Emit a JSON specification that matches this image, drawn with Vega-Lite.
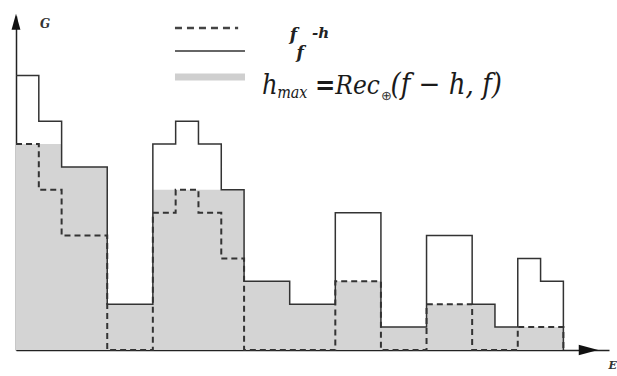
{
  "$schema": "https://vega.github.io/schema/vega-lite/v6.json",
  "width": 593,
  "height": 334,
  "autosize": "none",
  "padding": {"left": 16, "top": 16, "right": 8, "bottom": 26},
  "background": "white",
  "config": {
    "view": {"stroke": null},
    "axis": {"domain": true, "domainColor": "#222", "domainWidth": 1.5, "ticks": false, "labels": false, "grid": false, "title": null, "zindex": 1}
  },
  "layer": [
    {
      "data": {"values": [
        {"x": 0, "f": 12, "fh": 9, "hm": 9},
        {"x": 1, "f": 10, "fh": 7, "hm": 9},
        {"x": 2, "f": 8, "fh": 5, "hm": 8},
        {"x": 3, "f": 8, "fh": 5, "hm": 8},
        {"x": 4, "f": 2, "fh": 0, "hm": 2},
        {"x": 5, "f": 2, "fh": 0, "hm": 2},
        {"x": 6, "f": 9, "fh": 6, "hm": 7},
        {"x": 7, "f": 10, "fh": 7, "hm": 7},
        {"x": 8, "f": 9, "fh": 6, "hm": 7},
        {"x": 9, "f": 7, "fh": 4, "hm": 7},
        {"x": 10, "f": 3, "fh": 0, "hm": 3},
        {"x": 11, "f": 3, "fh": 0, "hm": 3},
        {"x": 12, "f": 2, "fh": 0, "hm": 2},
        {"x": 13, "f": 2, "fh": 0, "hm": 2},
        {"x": 14, "f": 6, "fh": 3, "hm": 3},
        {"x": 15, "f": 6, "fh": 3, "hm": 3},
        {"x": 16, "f": 1, "fh": 0, "hm": 1},
        {"x": 17, "f": 1, "fh": 0, "hm": 1},
        {"x": 18, "f": 5, "fh": 2, "hm": 2},
        {"x": 19, "f": 5, "fh": 2, "hm": 2},
        {"x": 20, "f": 2, "fh": 0, "hm": 2},
        {"x": 21, "f": 1, "fh": 0, "hm": 1},
        {"x": 22, "f": 4, "fh": 1, "hm": 1},
        {"x": 23, "f": 3, "fh": 1, "hm": 1},
        {"x": 24, "f": 0, "fh": 0, "hm": 0}
      ]},
      "layer": [
        {
          "mark": {"type": "area", "interpolate": "step-after", "color": "#d4d4d4"},
          "encoding": {
            "x": {"field": "x", "type": "quantitative", "scale": {"domain": [0, 26], "nice": false, "zero": false}, "axis": {"orient": "bottom"}},
            "y": {"field": "hm", "type": "quantitative", "scale": {"domain": [0, 14.6], "nice": false}, "axis": {"orient": "left"}}
          }
        },
        {
          "mark": {"type": "line", "interpolate": "step-after", "color": "#333", "strokeWidth": 1.5},
          "encoding": {
            "x": {"field": "x", "type": "quantitative"},
            "y": {"field": "f", "type": "quantitative"}
          }
        },
        {
          "mark": {"type": "line", "interpolate": "step-after", "color": "#333", "strokeWidth": 2, "strokeDash": [6, 4]},
          "encoding": {
            "x": {"field": "x", "type": "quantitative"},
            "y": {"field": "fh", "type": "quantitative"}
          }
        }
      ]
    },
    {
      "data": {"values": [{}]},
      "layer": [
        {
          "mark": {"type": "point", "shape": "M0,-1L0.55,1L-0.55,1Z", "filled": true, "color": "#111", "opacity": 1, "size": 260, "clip": false},
          "encoding": {"x": {"datum": 0}, "y": {"datum": 14.35}}
        },
        {
          "mark": {"type": "point", "shape": "M1,0L-1,0.55L-1,-0.55Z", "filled": true, "color": "#111", "opacity": 1, "size": 380, "clip": false},
          "encoding": {"x": {"datum": 25.1}, "y": {"datum": 0}}
        },
        {
          "mark": {"type": "text", "text": "G", "font": "DejaVu Serif", "fontStyle": "italic", "fontWeight": "bold", "fontSize": 12, "align": "left", "baseline": "alphabetic", "color": "#333"},
          "encoding": {"x": {"datum": 1.05}, "y": {"datum": 14.07}}
        },
        {
          "mark": {"type": "text", "text": "E", "font": "DejaVu Serif", "fontStyle": "italic", "fontWeight": "bold", "fontSize": 11, "align": "left", "baseline": "alphabetic", "color": "#333", "clip": false},
          "encoding": {"x": {"datum": 25.98}, "y": {"datum": -0.85}}
        },
        {
          "mark": {"type": "rule", "color": "#444", "strokeWidth": 2.5, "strokeDash": [7, 5]},
          "encoding": {"x": {"datum": 6.97}, "x2": {"datum": 9.74}, "y": {"datum": 14.07}}
        },
        {
          "mark": {"type": "rule", "color": "#333", "strokeWidth": 1.5},
          "encoding": {"x": {"datum": 6.97}, "x2": {"datum": 10.04}, "y": {"datum": 13.07}}
        },
        {
          "mark": {"type": "rule", "color": "#cfcfcf", "strokeWidth": 7},
          "encoding": {"x": {"datum": 6.97}, "x2": {"datum": 10.04}, "y": {"datum": 11.93}}
        },
        {
          "mark": {"type": "text", "text": "f", "font": "DejaVu Serif", "fontStyle": "italic", "fontWeight": "bold", "fontSize": 17, "align": "left", "baseline": "alphabetic", "color": "#222"},
          "encoding": {"x": {"datum": 12.0}, "y": {"datum": 13.55}}
        },
        {
          "mark": {"type": "text", "text": "-h", "font": "DejaVu Serif", "fontStyle": "italic", "fontWeight": "bold", "fontSize": 15, "align": "left", "baseline": "alphabetic", "color": "#222"},
          "encoding": {"x": {"datum": 12.98}, "y": {"datum": 13.64}}
        },
        {
          "mark": {"type": "text", "text": "f", "font": "DejaVu Serif", "fontStyle": "italic", "fontWeight": "bold", "fontSize": 17, "align": "left", "baseline": "alphabetic", "color": "#222"},
          "encoding": {"x": {"datum": 12.3}, "y": {"datum": 12.75}}
        },
        {
          "mark": {"type": "text", "text": "h", "font": "DejaVu Serif Condensed", "fontStyle": "italic", "fontSize": 27, "align": "left", "baseline": "alphabetic", "color": "#1a1a1a"},
          "encoding": {"x": {"datum": 10.79}, "y": {"datum": 11.19}}
        },
        {
          "mark": {"type": "text", "text": "max", "font": "DejaVu Serif Condensed", "fontStyle": "italic", "fontSize": 16, "align": "left", "baseline": "alphabetic", "color": "#1a1a1a"},
          "encoding": {"x": {"datum": 11.45}, "y": {"datum": 11.01}}
        },
        {
          "mark": {"type": "text", "text": "=", "font": "DejaVu Serif Condensed", "fontWeight": "bold", "fontSize": 27, "align": "left", "baseline": "alphabetic", "color": "#1a1a1a"},
          "encoding": {"x": {"datum": 13.11}, "y": {"datum": 11.19}}
        },
        {
          "mark": {"type": "text", "text": "Rec", "font": "DejaVu Serif Condensed", "fontStyle": "italic", "fontSize": 26, "align": "left", "baseline": "alphabetic", "color": "#1a1a1a"},
          "encoding": {"x": {"datum": 14.0}, "y": {"datum": 11.19}}
        },
        {
          "mark": {"type": "text", "text": "⊕", "font": "DejaVu Sans", "fontSize": 13, "align": "left", "baseline": "alphabetic", "color": "#333"},
          "encoding": {"x": {"datum": 16.0}, "y": {"datum": 10.95}}
        },
        {
          "mark": {"type": "text", "text": "(f − h, f)", "font": "DejaVu Serif Condensed", "fontStyle": "italic", "fontSize": 29, "align": "left", "baseline": "alphabetic", "color": "#1a1a1a"},
          "encoding": {"x": {"datum": 16.42}, "y": {"datum": 11.19}}
        }
      ]
    }
  ]
}
